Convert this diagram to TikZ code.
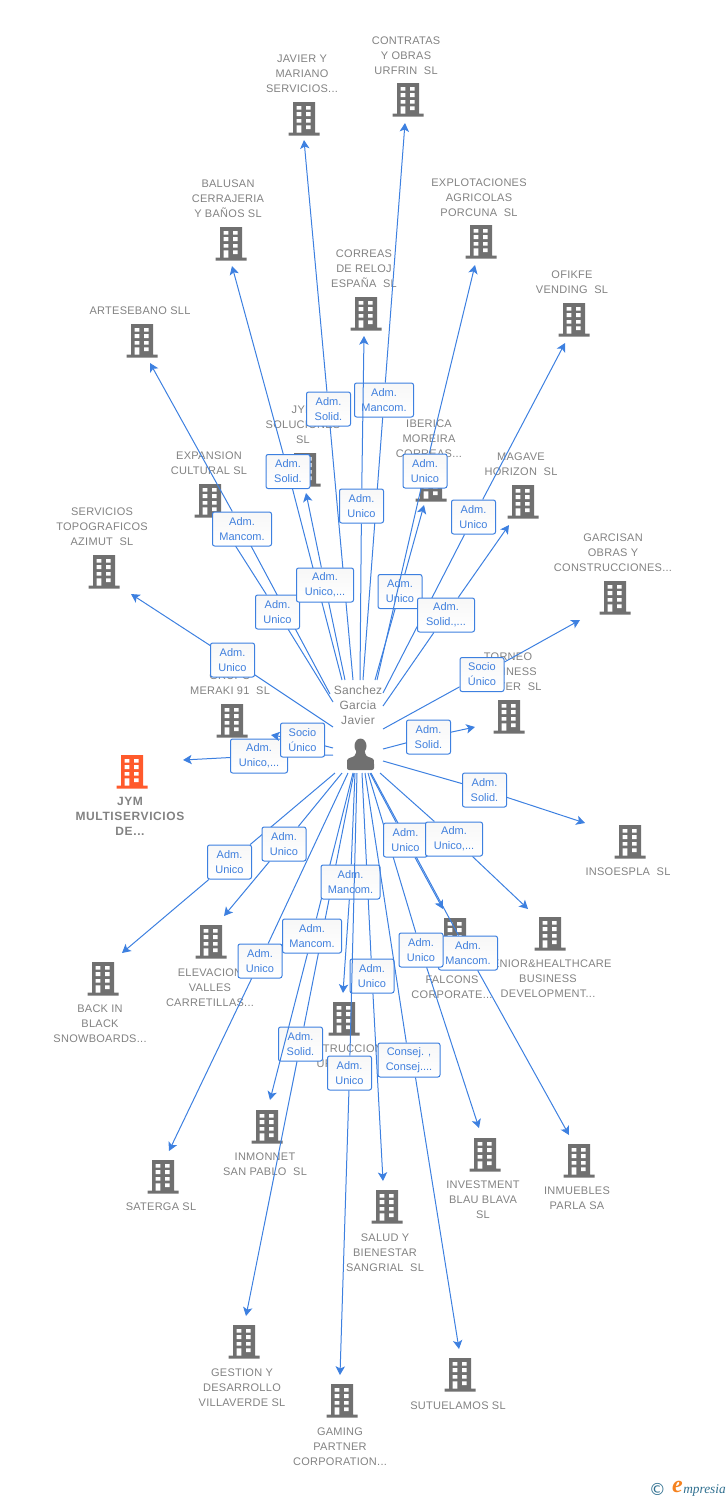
\documentclass[tikz,border=0pt]{standalone}
\usepackage{fontspec}
\setmainfont{Liberation Sans}
\newfontfamily\firmfont[LetterSpace=2.5]{Liberation Sans}
\newfontfamily\jymfont[LetterSpace=5]{Liberation Sans}
\newfontfamily\logofont{Liberation Serif}
\newfontfamily\markfont{DejaVu Sans}
\usetikzlibrary{arrows.meta}
\definecolor{wireblue}{HTML}{3D80E0}
\definecolor{tagblue}{HTML}{3F7FDD}
\definecolor{firmgrey}{HTML}{707070}
\definecolor{firmtext}{HTML}{828282}
\definecolor{firmorange}{HTML}{FF5A2C}
\definecolor{logoteal}{HTML}{2F6F8F}
\definecolor{logoorange}{HTML}{F58220}
\tikzset{
  firmlabel/.style={text=firmtext, align=center, inner sep=0pt, yshift=-0.75pt, font=\firmfont\fontsize{8.25}{11.25}\selectfont},
  tag/.style={draw=wireblue, line width=0.75pt, rounded corners=1.6pt, top color=black!3, bottom color=white,
    text=tagblue, align=center, inner sep=0pt, minimum width=#1*0.75pt, minimum height=25.5pt,
    font=\fontsize{8.25}{11.25}\selectfont},
  tag/.default=44,
  wire/.style={draw=wireblue, line width=0.75pt},
  wiretip/.style={wire, -{Stealth[length=6.5pt,width=7pt,inset=1.6pt]}},
  pics/firm/.style={code={
    \fill[#1] (-11,-17) rectangle (11,14) (-15.5,13.5) rectangle (15.5,16.5);
    \fill[white] (-7.3,-13) rectangle (-2.7,-9.3) (2,-13) rectangle (6.7,-9.3);
    \fill[white] (-7.3,-7) rectangle (-2.7,-3) (2,-7) rectangle (6.7,-3);
    \fill[white] (-7.3,0) rectangle (-2.7,3.7) (2,0) rectangle (6.7,3.7);
    \fill[white] (-7.3,6.3) rectangle (-2.7,13.5) (2,6.3) rectangle (6.7,10);
  }},
  pics/firm/.default=firmgrey
}
\begin{document}
\begin{tikzpicture}[x=0.75pt,y=-0.75pt]
  \useasboundingbox (0,0) rectangle (728,1500);
  % firms
  \pic at (304,119) {firm}; \node[firmlabel] (javier) at (302,73) {JAVIER Y\\MARIANO\\SERVICIOS...};
  \pic at (408,100) {firm}; \node[firmlabel] (contratas) at (406,55) {CONTRATAS\\Y OBRAS\\URFRIN~~SL};
  \pic at (231,244) {firm}; \node[firmlabel] (balusan) at (228,198) {BALUSAN\\CERRAJERIA\\Y BAÑOS SL};
  \pic at (481,242) {firm}; \node[firmlabel] (explotaciones) at (479,197) {EXPLOTACIONES\\AGRICOLAS\\PORCUNA~~SL};
  \pic at (366,314) {firm}; \node[firmlabel] (correas) at (364,268) {CORREAS\\DE RELOJ\\ESPAÑA~~SL};
  \pic at (574,320) {firm}; \node[firmlabel] (ofikfe) at (572,281.5) {OFIKFE\\VENDING~~SL};
  \pic at (142,341) {firm}; \node[firmlabel] (artesebano) at (140,310) {ARTESEBANO SLL};
  \pic at (305,470) {firm}; \node[firmlabel] (jymsol) at (303,424) {JYM\\SOLUCIONES\\SL};
  \pic at (431,485) {firm}; \node[firmlabel] (iberica) at (429,438) {IBERICA\\MOREIRA\\CORREAS...};
  \pic at (210,501) {firm}; \node[firmlabel] (expansion) at (209,462.5) {EXPANSION\\CULTURAL SL};
  \pic at (523,502) {firm}; \node[firmlabel] (magave) at (521,463.5) {MAGAVE\\HORIZON~~SL};
  \pic at (104,572) {firm}; \node[firmlabel] (servicios) at (102,526) {SERVICIOS\\TOPOGRAFICOS\\AZIMUT~~SL};
  \pic at (615,598) {firm}; \node[firmlabel] (garcisan) at (613,552) {GARCISAN\\OBRAS Y\\CONSTRUCCIONES...};
  \pic at (232,721) {firm}; \node[firmlabel] (meraki) at (230,682.5) {GRUPO\\MERAKI 91~~SL};
  \pic at (509,717) {firm}; \node[firmlabel] (torneo) at (508,671) {TORNEO\\BUSINESS\\CENTER~~SL};
  \pic at (132,772) {firm=firmorange}; \node[firmlabel, font=\jymfont\fontsize{9}{11.25}\selectfont\bfseries] (jym) at (130,815) {JYM\\MULTISERVICIOS\\DE...};
  \pic at (630,842) {firm}; \node[firmlabel] (insoespla) at (628,871) {INSOESPLA~~SL};
  \pic at (550,934) {firm}; \node[firmlabel] (senior) at (548,978) {SENIOR\&HEALTHCARE\\BUSINESS\\DEVELOPMENT...};
  \pic at (455,935) {firm}; \node[firmlabel] (falcons) at (452,986.5) {FALCONS\\CORPORATE...};
  \pic at (211,942) {firm}; \node[firmlabel] (elevacion) at (210,987) {ELEVACION\\VALLES\\CARRETILLAS...};
  \pic at (103,979) {firm}; \node[firmlabel] (back) at (100,1023) {BACK IN\\BLACK\\SNOWBOARDS...};
  \pic at (344,1019) {firm}; \node[firmlabel] (construcciones) at (344,1055.5) {CONSTRUCCIONES\\URBANAS};
  \pic at (267,1127) {firm}; \node[firmlabel] (inmonnet) at (265,1163.5) {INMONNET\\SAN PABLO~~SL};
  \pic at (485,1155) {firm}; \node[firmlabel] (investment) at (483,1199) {INVESTMENT\\BLAU BLAVA\\SL};
  \pic at (579,1161) {firm}; \node[firmlabel] (inmuebles) at (577,1197.5) {INMUEBLES\\PARLA SA};
  \pic at (163,1177) {firm}; \node[firmlabel] (saterga) at (161,1206) {SATERGA SL};
  \pic at (387,1207) {firm}; \node[firmlabel] (salud) at (385,1252) {SALUD Y\\BIENESTAR\\SANGRIAL~~SL};
  \pic at (244,1342) {firm}; \node[firmlabel] (gestion) at (242,1387) {GESTION Y\\DESARROLLO\\VILLAVERDE SL};
  \pic at (460,1375) {firm}; \node[firmlabel] (sutuelamos) at (458,1405) {SUTUELAMOS SL};
  \pic at (342,1401) {firm}; \node[firmlabel] (gaming) at (340,1446) {GAMING\\PARTNER\\CORPORATION...};
  % person
  \fill[firmgrey] (360.5,746) ellipse (6 and 7.5);
  \fill[firmgrey, rounded corners=1.5pt] (347,770) -- (347,762) .. controls (347.5,758) and (352,757.5) .. (356,755) -- (356,750) -- (365,750) -- (365,755) .. controls (369,757.5) and (373.5,758) .. (374,762) -- (374,770) -- cycle;
  \node[firmlabel, font=\firmfont\fontsize{9}{11.25}\selectfont] (sanchez) at (358,704) {Sanchez\\Garcia\\Javier};
  % links
  \coordinate (s1) at (333,727); \coordinate (t1) at (131,594);
  \node[tag] (a1) at (232.5,660) {Adm.\\Unico};
  \draw[wire] (s1) -- (a1); \draw[wiretip] (a1) -- (t1);
  \coordinate (s3) at (330,694); \coordinate (t3) at (150,363); \coordinate (m3) at (242,529);
  \draw[wire] (s3) -- (m3);
  \coordinate (s2) at (333,702); \coordinate (t2) at (226,531);
  \node[tag] (a2) at (277.5,612) {Adm.\\Unico};
  \draw[wire] (s2) -- (a2); \draw[wiretip] (a2) -- (t2);
  \node[tag=59] (a3) at (m3) {Adm.\\Mancom.};
  \draw[wiretip] (a3) -- (t3);
  \coordinate (s4) at (342,680); \coordinate (t4) at (232,266);
  \node[tag] (a4) at (288,471.5) {Adm.\\Solid.};
  \draw[wire] (s4) -- (a4); \draw[wiretip] (a4) -- (t4);
  \coordinate (s5) at (353,680); \coordinate (t5) at (304,140);
  \node[tag] (a5) at (328.5,409) {Adm.\\Solid.};
  \draw[wire] (s5) -- (a5); \draw[wiretip] (a5) -- (t5);
  \coordinate (s6) at (363,680); \coordinate (t6) at (405,123);
  \node[tag=59] (a6) at (384,400) {Adm.\\Mancom.};
  \draw[wire] (s6) -- (a6); \draw[wiretip] (a6) -- (t6);
  \coordinate (s7) at (360,680); \coordinate (t7) at (364,336);
  \node[tag] (a7) at (361.5,506) {Adm.\\Unico};
  \draw[wire] (s7) -- (a7); \draw[wiretip] (a7) -- (t7);
  \coordinate (s8) at (345,680); \coordinate (t8) at (306,493);
  \node[tag=57] (a8) at (325,585) {Adm.\\Unico,...};
  \draw[wire] (s8) -- (a8); \draw[wiretip] (a8) -- (t8);
  \coordinate (s9) at (375,680); \coordinate (t9) at (424,505);
  \node[tag] (a9) at (400,591.5) {Adm.\\Unico};
  \draw[wire] (s9) -- (a9); \draw[wiretip] (a9) -- (t9);
  \coordinate (s10) at (377,680); \coordinate (t10) at (475,265);
  \node[tag] (a10) at (425,471) {Adm.\\Unico};
  \draw[wire] (s10) -- (a10); \draw[wiretip] (a10) -- (t10);
  \coordinate (s11) at (383,693); \coordinate (t11) at (565,343);
  \node[tag] (a11) at (473.5,517) {Adm.\\Unico};
  \draw[wire] (s11) -- (a11); \draw[wiretip] (a11) -- (t11);
  \coordinate (s12) at (383,706); \coordinate (t12) at (509,525);
  \node[tag=57] (a12) at (446,615) {Adm.\\Solid.,...};
  \draw[wire] (s12) -- (a12); \draw[wiretip] (a12) -- (t12);
  \coordinate (s13) at (333,755); \coordinate (t13) at (183,760);
  \node[tag=57] (a13) at (259,756) {Adm.\\Unico,...};
  \draw[wire] (s13) -- (a13); \draw[wiretip] (a13) -- (t13);
  \coordinate (s14) at (333,748); \coordinate (t14) at (271,735);
  \node[tag] (a14) at (302.5,740) {Socio\\Único};
  \draw[wire] (s14) -- (a14); \draw[wiretip] (a14) -- (t14);
  \coordinate (s15) at (383,729); \coordinate (t15) at (580,620);
  \node[tag] (a15) at (482,674.5) {Socio\\Único};
  \draw[wire] (s15) -- (a15); \draw[wiretip] (a15) -- (t15);
  \coordinate (s16) at (383,749); \coordinate (t16) at (475,727);
  \node[tag] (a16) at (428.5,737) {Adm.\\Solid.};
  \draw[wire] (s16) -- (a16); \draw[wiretip] (a16) -- (t16);
  \coordinate (s17) at (383,761); \coordinate (t17) at (585,823);
  \node[tag] (a17) at (484.5,790) {Adm.\\Solid.};
  \draw[wire] (s17) -- (a17); \draw[wiretip] (a17) -- (t17);
  \coordinate (s18) at (335,773); \coordinate (t18) at (122,953);
  \node[tag] (a18) at (229.5,862) {Adm.\\Unico};
  \draw[wire] (s18) -- (a18); \draw[wiretip] (a18) -- (t18);
  \coordinate (s19) at (342,773); \coordinate (t19) at (224,916);
  \node[tag] (a19) at (284,844) {Adm.\\Unico};
  \draw[wire] (s19) -- (a19); \draw[wiretip] (a19) -- (t19);
  \coordinate (s20) at (348,773); \coordinate (t20) at (169,1151);
  \node[tag] (a20) at (260,961) {Adm.\\Unico};
  \draw[wire] (s20) -- (a20); \draw[wiretip] (a20) -- (t20);
  \coordinate (s21) at (354,773); \coordinate (t21) at (246,1316);
  \node[tag] (a21) at (300.5,1044) {Adm.\\Solid.};
  \draw[wire] (s21) -- (a21); \draw[wiretip] (a21) -- (t21);
  \coordinate (s22) at (353,773); \coordinate (t22) at (270,1100);
  \node[tag=59] (a22) at (312,936) {Adm.\\Mancom.};
  \draw[wire] (s22) -- (a22); \draw[wiretip] (a22) -- (t22);
  \coordinate (s23) at (362,773); \coordinate (t23) at (383,1181);
  \node[tag] (a23) at (372,976) {Adm.\\Unico};
  \draw[wire] (s23) -- (a23); \draw[wiretip] (a23) -- (t23);
  \coordinate (s24) at (355,773); \coordinate (t24) at (343,993);
  \node[tag=59] (a24) at (350.5,882) {Adm.\\Mancom.};
  \draw[wire] (s24) -- (a24); \draw[wiretip] (a24) -- (t24);
  \coordinate (s25) at (357,773); \coordinate (t25) at (340,1375);
  \node[tag] (a25) at (349.5,1073) {Adm.\\Unico};
  \draw[wire] (s25) -- (a25); \draw[wiretip] (a25) -- (t25);
  \coordinate (s26) at (365,773); \coordinate (t26) at (459,1349);
  \node[tag=62] (a26) at (409,1060) {Consej. ,\\Consej....};
  \draw[wire] (s26) -- (a26); \draw[wiretip] (a26.south east) ++(-25,0) -- (t26);
  \coordinate (s27) at (371,773); \coordinate (t27) at (569,1135);
  \node[tag=59] (a27) at (468,953) {Adm.\\Mancom.};
  \draw[wire] (s27) -- (a27); \draw[wiretip] (a27) -- (t27);
  \coordinate (s28) at (368,773); \coordinate (t28) at (479,1128);
  \node[tag] (a28) at (421,950) {Adm.\\Unico};
  \draw[wire] (s28) -- (a28); \draw[wiretip] (a28) -- (t28);
  \coordinate (s29) at (370,773); \coordinate (t29) at (443,909);
  \node[tag] (a29) at (405.5,840) {Adm.\\Unico};
  \draw[wire] (s29) -- (a29); \draw[wiretip] (a29) -- (t29);
  \coordinate (s30) at (380,773); \coordinate (t30) at (528,909);
  \node[tag=57] (a30) at (454,839) {Adm.\\Unico,...};
  \draw[wire] (s30) -- (a30); \draw[wiretip] (a30) -- (t30);
  % logo
  \node[text=logoteal, inner sep=0pt, font=\markfont\fontsize{12.5}{12.5}\selectfont] (copyr) at (657.5,1489) {©};
  \node[text=logoorange, inner sep=0pt, font=\logofont\bfseries\itshape\fontsize{18}{18}\selectfont] (logoe) at (677.5,1487) {e};
  \node[text=logoteal, inner sep=0pt, font=\logofont\itshape\fontsize{10}{10}\selectfont] (logotext) at (704.5,1490) {mpresia};
\end{tikzpicture}
\end{document}
